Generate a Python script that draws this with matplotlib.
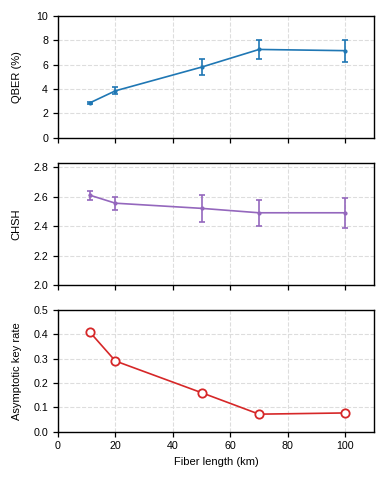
import numpy as np
import matplotlib.pyplot as plt

plt.rcParams['font.family'] = ['Liberation Sans', 'DejaVu Sans']
plt.rcParams['font.size'] = 8

length = [11, 20, 50, 70, 100]
qber = [2.85, 3.85, 5.8, 7.25, 7.15]
qber_err = [0.05, 0.3, 0.65, 0.75, 0.9]
chsh = [2.61, 2.555, 2.52, 2.49, 2.49]
chsh_err = [0.03, 0.045, 0.09, 0.09, 0.10]
keyrate = [0.41, 0.29, 0.16, 0.072, 0.077]

fig = plt.figure(figsize=(3.86, 4.84), dpi=100)
ax1 = fig.add_axes([0.150, 0.7155, 0.819, 0.2515])
ax2 = fig.add_axes([0.150, 0.411, 0.819, 0.253])
ax3 = fig.add_axes([0.150, 0.108, 0.819, 0.252])

ax1.errorbar(length, qber, yerr=qber_err, color='tab:blue', lw=1.2,
             marker='o', ms=2, capsize=2.5, elinewidth=1.2, capthick=1.2)
ax1.set_ylim(0, 10)
ax1.set_yticks([0, 2, 4, 6, 8, 10])
ax1.set_ylabel('QBER (%)')

ax2.errorbar(length, chsh, yerr=chsh_err, color='tab:purple', lw=1.2,
             marker='o', ms=2, capsize=2.5, elinewidth=1.2, capthick=1.2)
ax2.set_ylim(2.0, 2.83)
ax2.set_yticks([2.0, 2.2, 2.4, 2.6, 2.8])
ax2.set_ylabel('CHSH')

ax3.plot(length, keyrate, color='tab:red', lw=1.2, marker='o', ms=6,
         mfc='white', mec='tab:red', mew=1.3)
ax3.set_ylim(0, 0.5)
ax3.set_yticks([0, 0.1, 0.2, 0.3, 0.4, 0.5])
ax3.set_ylabel('Asymptotic key rate')
ax3.set_xlabel('Fiber length (km)')

for ax in [ax1, ax2, ax3]:
    ax.set_xlim(0, 110)
    ax.set_xticks([0, 20, 40, 60, 80, 100])
    ax.grid(True, ls='--', color='#dddddd', lw=0.8)
    ax.set_axisbelow(True)
    ax.tick_params(direction='out', length=3.5, width=0.9, labelsize=7.7)
    ax.yaxis.set_label_coords(-0.115, 0.5)
    for s in ax.spines.values():
        s.set_linewidth(1.0)
for ax in [ax1, ax2]:
    ax.tick_params(labelbottom=False)

fig.savefig('out.png', dpi=100)
